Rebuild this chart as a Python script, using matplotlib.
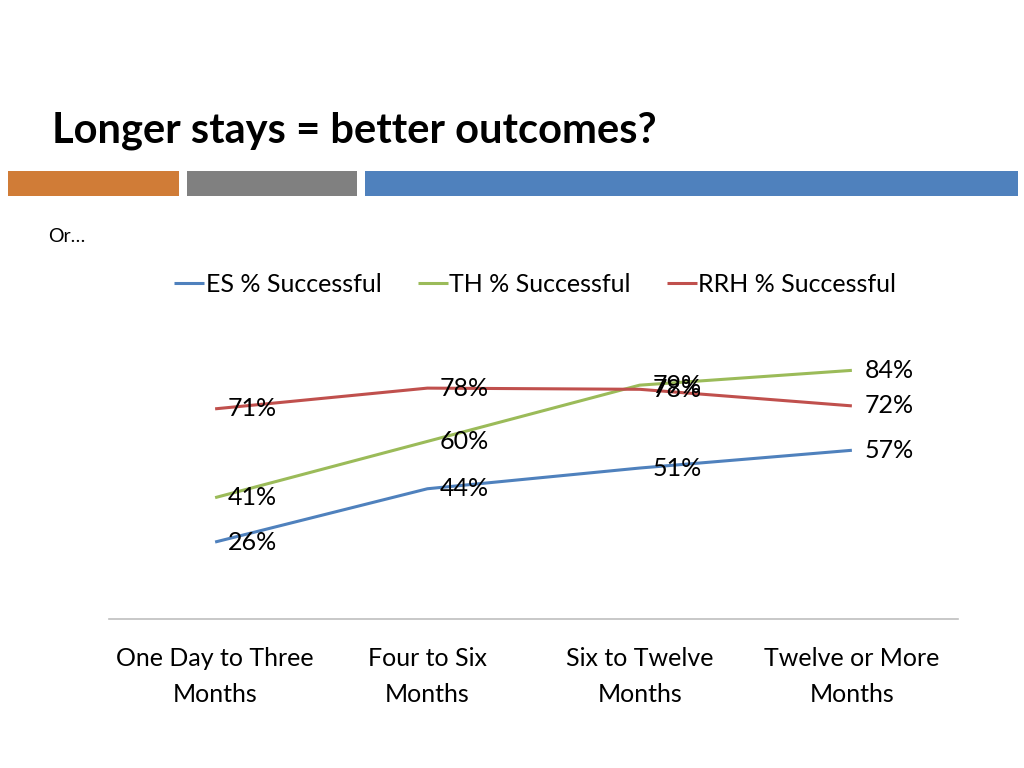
import matplotlib
matplotlib.use("Agg")
import matplotlib.pyplot as plt
from matplotlib.patches import Rectangle

plt.rcParams['font.family'] = ['Lato', 'DejaVu Sans']

# data
categories = ['One Day to Three\nMonths', 'Four to Six\nMonths',
              'Six to Twelve\nMonths', 'Twelve or More\nMonths']
es_success = [0.26, 0.44, 0.51, 0.57]
th_success = [0.41, 0.60, 0.79, 0.84]
rrh_success = [0.71, 0.78, 0.776, 0.72]
series_names = ['ES % Successful', 'TH % Successful', 'RRH % Successful']
series_colors = ['#4F81BD', '#9BBB59', '#C0504D']

fig = plt.figure(figsize=(10.24, 7.68), dpi=100)

# title and decorative bars
fig.text(52 / 1024, 1 - 131 / 768, 'Longer stays = better outcomes?',
         fontsize=30, fontweight='bold', ha='left', va='center', color='black')
bar_specs = [(8, 179, '#D07C37'), (187, 357, '#808080'), (365, 1018, '#4F81BD')]
for x0, x1, col in bar_specs:
    fig.patches.append(Rectangle((x0 / 1024, 1 - 196 / 768), (x1 - x0) / 1024, 25 / 768,
                                 transform=fig.transFigure, color=col, lw=0))
fig.text(48 / 1024, 1 - 236 / 768, 'Or…', fontsize=14, ha='left', va='center')

ax = fig.add_axes([109 / 1024, (768 - 619) / 768, 849 / 1024, 296 / 768])
x = list(range(len(categories)))
handles = []
for vals, name, col in zip([es_success, th_success, rrh_success], series_names, series_colors):
    h, = ax.plot(x, vals, color=col, lw=2.2, label=name, solid_capstyle='butt')
    handles.append(h)
    for xi, v in zip(x, vals):
        ax.annotate(f'{v * 100:.0f}%', (xi, v), xytext=(9, 0), textcoords='offset points',
                    ha='left', va='center', fontsize=18)

ax.set_xlim(-0.5, 3.5)
ax.set_ylim(0, 1)
for side in ['top', 'left', 'right']:
    ax.spines[side].set_visible(False)
ax.spines['bottom'].set_color('#BFBFBF')
ax.spines['bottom'].set_linewidth(1.2)
ax.set_yticks([])
ax.set_xticks(x)
ax.set_xticklabels(categories, fontsize=18, linespacing=1.7)
ax.tick_params(axis='x', length=0, pad=20)

fig.legend(handles=handles, loc='center', bbox_to_anchor=(535 / 1024, 1 - 284 / 768),
           ncol=3, frameon=False, fontsize=18, handlelength=1.2, handletextpad=0.05,
           columnspacing=1.45)

fig.savefig('out.png', dpi=100)
